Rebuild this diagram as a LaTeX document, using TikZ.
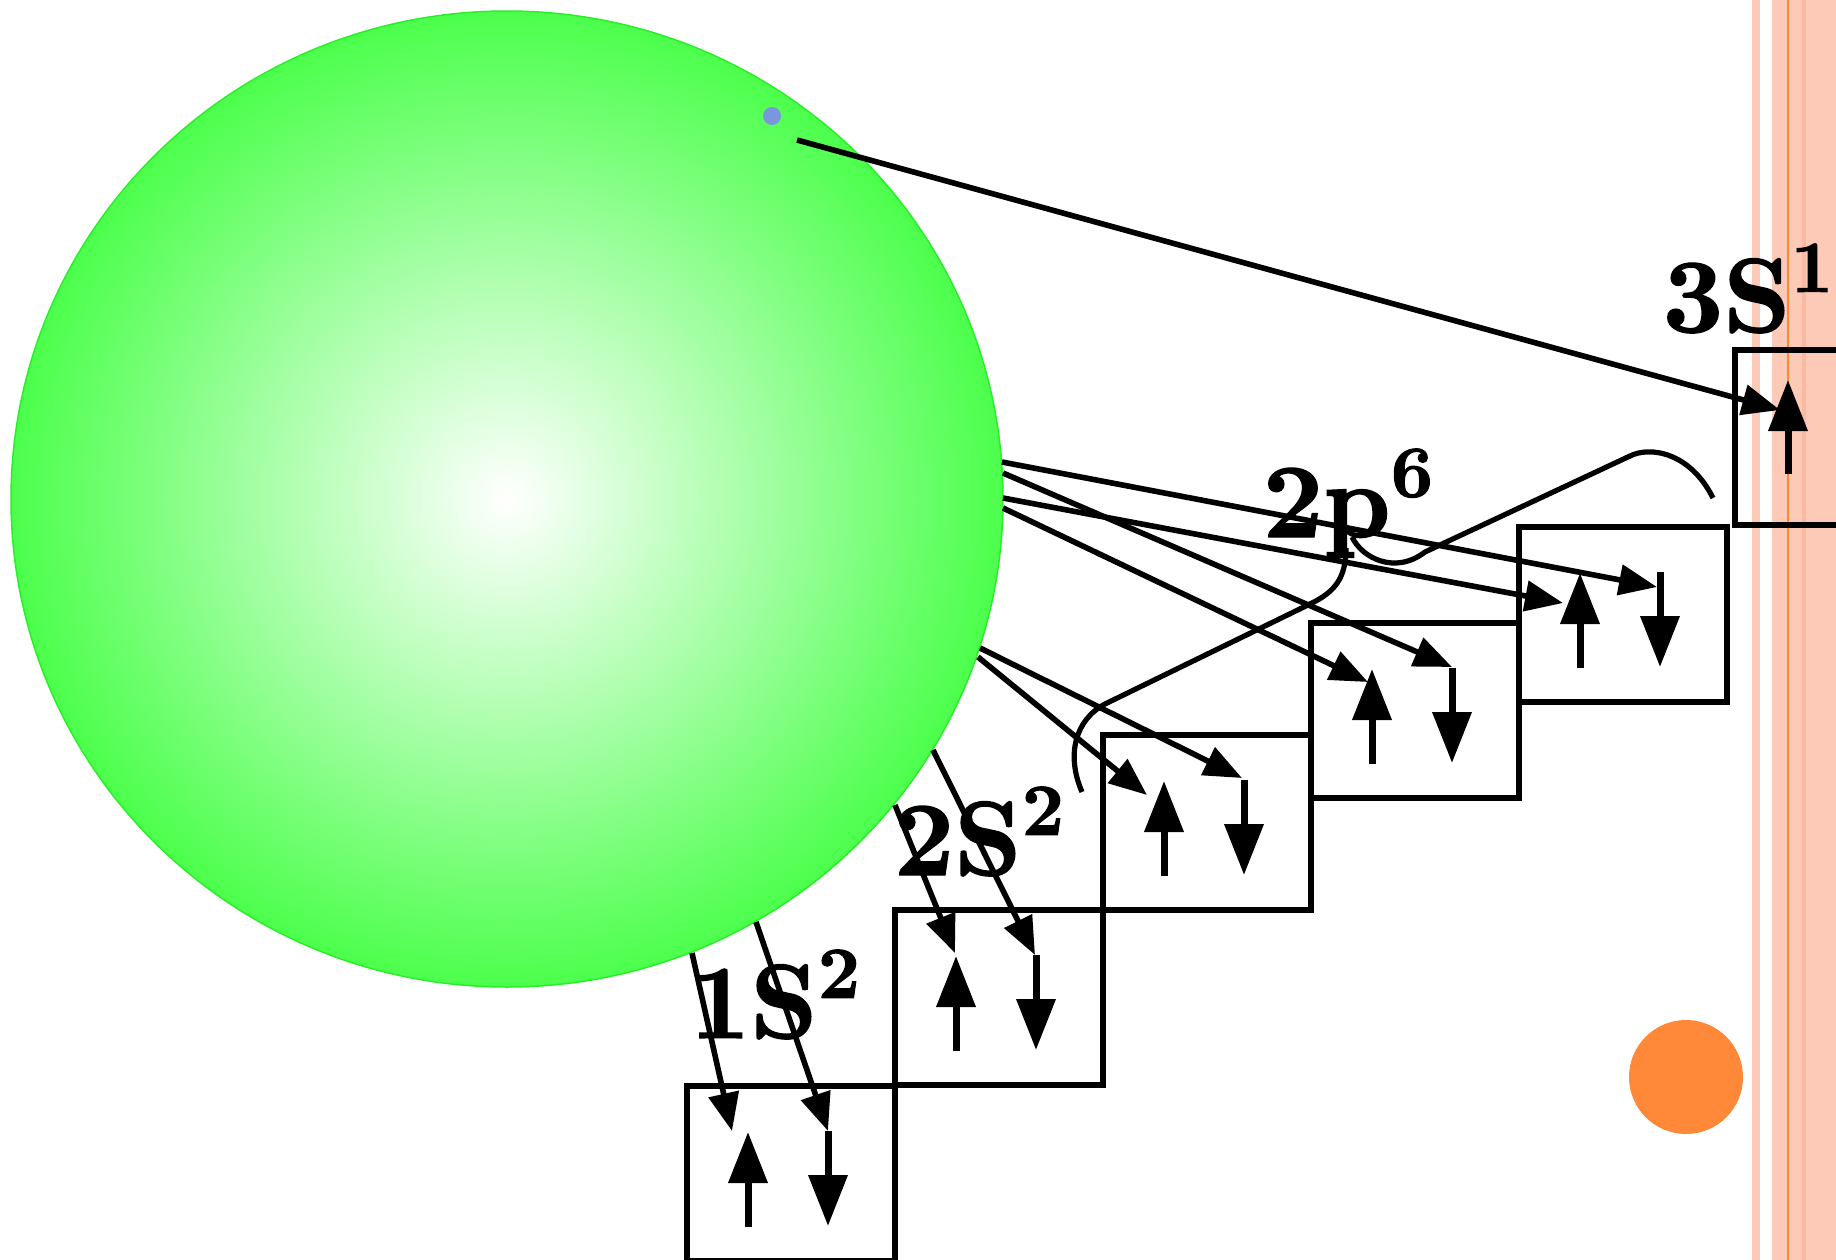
\documentclass[tikz,border=0pt]{standalone}
\usepackage{fontspec}
\newfontfamily\lblfont[FakeBold=1.3]{lmroman10-bold.otf}
\usetikzlibrary{arrows.meta,calc,shapes.geometric}
\definecolor{salmon}{RGB}{253,202,183}
\definecolor{salmondk}{RGB}{250,186,160}
\definecolor{orangeln}{RGB}{255,136,51}
\definecolor{orangeball}{RGB}{255,137,56}
\definecolor{ballgreen}{RGB}{76,255,76}
\definecolor{ballrim}{RGB}{40,240,40}
\definecolor{dotblue}{RGB}{122,150,220}
\newcommand\supnum[1]{\raisebox{11.4pt}{\fontsize{21}{24}\selectfont #1}}
\newcommand\spinpair[1]{%
  \draw[spin] ($(#1.north west)+(64,144)$) -- ($(#1.north west)+(64,49)$);
  \draw[spin] ($(#1.north west)+(144,48)$) -- ($(#1.north west)+(144,143)$);}
\begin{document}
\begin{tikzpicture}[x=0.1mm,y=-0.1mm,
  conn/.style={line width=0.56mm,-{Triangle[length=3.8mm,width=3mm]}},
  spin/.style={line width=0.7mm,-{Triangle[length=5.1mm,width=3.8mm]}},
  orb/.style={draw,line width=0.62mm,minimum width=20.8mm,minimum height=17.5mm,inner sep=0pt,anchor=north west},
  curvy/.style={line width=0.52mm},
  lbl/.style={inner sep=0pt,anchor=base west,font=\fontsize{30}{36}\selectfont\lblfont}]
\useasboundingbox (0,0) rectangle (1836,1260);
% right stripes
\fill[salmon] (1752,0) rectangle (1760,1260);
\fill[salmon] (1772,0) rectangle (1836,1260);
\fill[salmondk] (1802,0) rectangle (1806,1260);
\draw[orangeln,line width=0.2mm] (1788,0) -- (1788,1260);
% atom
\node[ellipse,minimum width=99.2mm,minimum height=97.6mm,inner sep=0pt,draw=ballrim,line width=0.15mm,inner color=white,outer color=ballgreen] (atom) at (507,499) {};
\node[circle,fill=dotblue,minimum size=1.8mm,inner sep=0pt] (dot) at (772,116) {};
\node[circle,fill=orangeball,minimum size=11.4mm,inner sep=0pt] (sun) at (1686,1077) {};
% boxes
\node[orb] (b1s) at (684,1083) {};
\node[orb] (b2s) at (892,907) {};
\node[orb] (b2pa) at (1100,732) {};
\node[orb] (b2pb) at (1308,620) {};
\node[orb] (b2pc) at (1516,524) {};
\node[orb] (b3s) at (1732,347) {};
% spins
\spinpair{b1s}
\spinpair{b2s}
\spinpair{b2pa}
\spinpair{b2pb}
\spinpair{b2pc}
\draw[spin] (1788,474) -- (1788,380);
% connector ends
\coordinate (s0) at (797,140);  \coordinate (e0) at (1780,410);
\coordinate (s1a) at (692,953); \coordinate (e1a) at (732,1131);
\coordinate (s1b) at (756,922); \coordinate (e1b) at (828,1131);
\coordinate (s2a) at (895,805); \coordinate (e2a) at (955,953);
\coordinate (s2b) at (933,750); \coordinate (e2b) at (1035,955);
\coordinate (sa1) at (978,657); \coordinate (ea1) at (1147,795);
\coordinate (sa2) at (980,648); \coordinate (ea2) at (1242,778);
\coordinate (sb1) at (1003,508); \coordinate (eb1) at (1368,682);
\coordinate (sb2) at (1003,473); \coordinate (eb2) at (1452,667);
\coordinate (sc1) at (1003,498); \coordinate (ec1) at (1563,603);
\coordinate (sc2) at (1002,462); \coordinate (ec2) at (1657,587);
\draw[conn] (s0) -- (e0);
\draw[conn] (s1a) -- (e1a);
\draw[conn] (s1b) -- (e1b);
\draw[conn] (s2a) -- (e2a);
\draw[conn] (s2b) -- (e2b);
\draw[conn] (sa1) -- (ea1);
\draw[conn] (sa2) -- (ea2);
\draw[conn] (sb1) -- (eb1);
\draw[conn] (sb2) -- (eb2);
\draw[conn] (sc1) -- (ec1);
\draw[conn] (sc2) -- (ec2);
% curve
\draw[curvy] (1082,792) .. controls (1066,755) and (1075,720) .. (1105,704) -- (1310,604) .. controls (1335,592) and (1346,578) .. (1346,548);
\draw[curvy] (1352,537) .. controls (1362,558) and (1395,575) .. (1425,552) -- (1630,456) .. controls (1650,446) and (1690,452) .. (1713,498);
% labels
\node[lbl] (l1s) at (689,1038) {1S\supnum{2}};
\node[lbl] (l2s) at (893,875) {2S\supnum{2}};
\node[lbl] (l2p) at (1262,537) {2p\supnum{6}};
\node[lbl] (l3s) at (1662,332) {3S\supnum{1}};
\end{tikzpicture}
\end{document}
